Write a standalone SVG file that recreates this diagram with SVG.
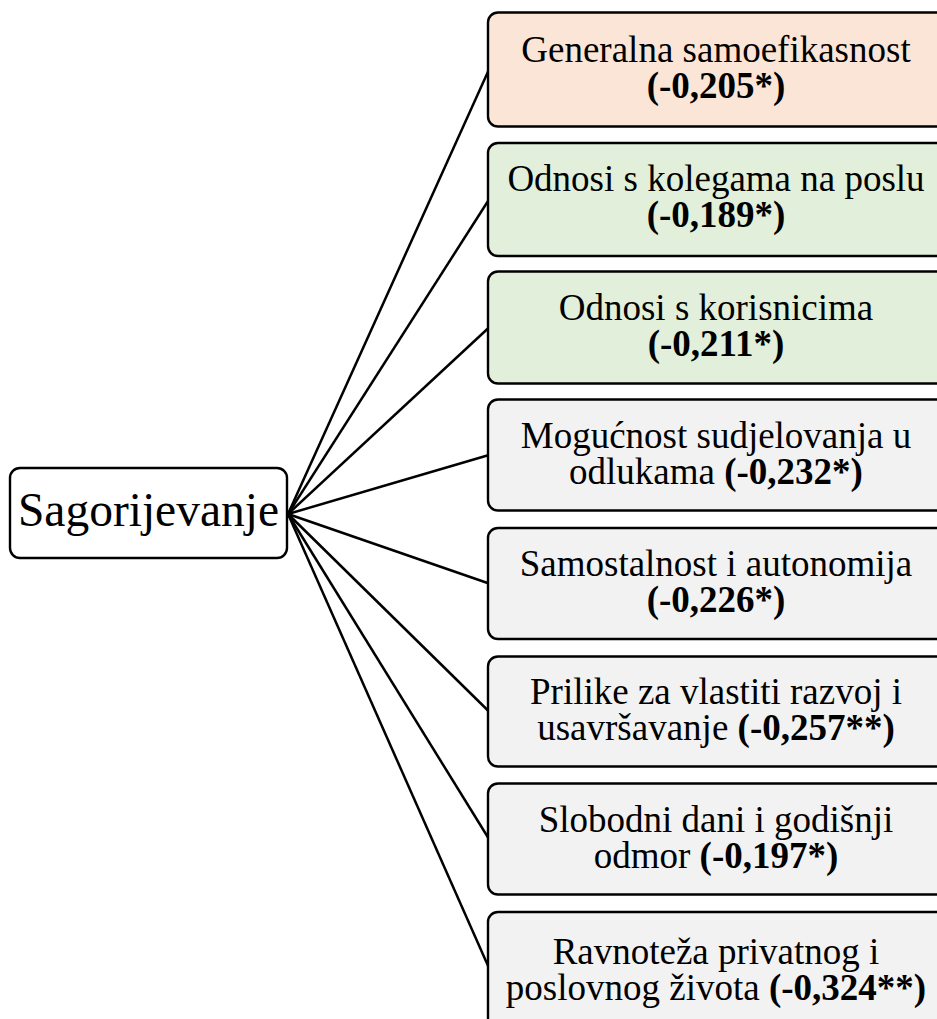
<svg xmlns="http://www.w3.org/2000/svg" width="937" height="1019" viewBox="0 0 937 1019">
  <style>
    .box { stroke: #000; stroke-width: 2.4; }
    .peach { fill: #FBE5D6; }
    .green { fill: #E2EFDA; }
    .gray { fill: #F2F2F2; }
    .lbl { font-family: "Liberation Serif", "Times New Roman", serif; font-size: 37px; fill: #000; text-anchor: middle; }
    .b { font-weight: bold; }
    .conn line { stroke: #000; stroke-width: 2.5; }
  </style>
  <rect width="937" height="1019" fill="#fff"/>
  <g id="connectors" class="conn">
    <line x1="288" y1="514" x2="489" y2="69.5"/>
    <line x1="288" y1="514" x2="489" y2="199.5"/>
    <line x1="288" y1="514" x2="489" y2="327.5"/>
    <line x1="288" y1="514" x2="489" y2="455"/>
    <line x1="288" y1="514" x2="489" y2="583.5"/>
    <line x1="288" y1="514" x2="489" y2="711.5"/>
    <line x1="288" y1="514" x2="489" y2="839"/>
    <line x1="288" y1="514" x2="489" y2="968"/>
  </g>
  <g id="root">
    <rect class="box" x="10" y="468" width="277" height="90" rx="10" fill="#fff"/>
    <text class="lbl" x="148.5" y="526" style="font-size:47.5px">Sagorijevanje</text>
  </g>
  <g id="n1">
    <rect class="box peach" x="488" y="12.5" width="458" height="114" rx="10"/>
    <text class="lbl" x="716" y="62">Generalna samoefikasnost<tspan class="b" x="716" dy="35.5">(-0,205*)</tspan></text>
  </g>
  <g id="n2">
    <rect class="box green" x="488" y="143" width="458" height="113" rx="10"/>
    <text class="lbl" x="716" y="191">Odnosi s kolegama na poslu<tspan class="b" x="716" dy="36">(-0,189*)</tspan></text>
  </g>
  <g id="n3">
    <rect class="box green" x="488" y="271.5" width="458" height="112" rx="10"/>
    <text class="lbl" x="716" y="319.5">Odnosi s korisnicima<tspan class="b" x="716" dy="36">(-0,211*)</tspan></text>
  </g>
  <g id="n4">
    <rect class="box gray" x="488" y="399.5" width="458" height="111" rx="10"/>
    <text class="lbl" x="716" y="447.5">Mogućnost sudjelovanja u<tspan x="716" dy="36">odlukama </tspan><tspan class="b">(-0,232*)</tspan></text>
  </g>
  <g id="n5">
    <rect class="box gray" x="488" y="528" width="458" height="111" rx="10"/>
    <text class="lbl" x="716" y="576">Samostalnost i autonomija<tspan class="b" x="716" dy="36">(-0,226*)</tspan></text>
  </g>
  <g id="n6">
    <rect class="box gray" x="488" y="656.5" width="458" height="110" rx="10"/>
    <text class="lbl" x="716" y="704">Prilike za vlastiti razvoj i<tspan x="716" dy="36">usavršavanje </tspan><tspan class="b">(-0,257**)</tspan></text>
  </g>
  <g id="n7">
    <rect class="box gray" x="488" y="783.5" width="458" height="111" rx="10"/>
    <text class="lbl" x="716" y="832">Slobodni dani i godišnji<tspan x="716" dy="36">odmor </tspan><tspan class="b">(-0,197*)</tspan></text>
  </g>
  <g id="n8">
    <rect class="box gray" x="488" y="912" width="458" height="122" rx="10"/>
    <text class="lbl" x="716" y="964">Ravnoteža privatnog i<tspan x="716" dy="36">poslovnog života </tspan><tspan class="b">(-0,324**)</tspan></text>
  </g>
</svg>
